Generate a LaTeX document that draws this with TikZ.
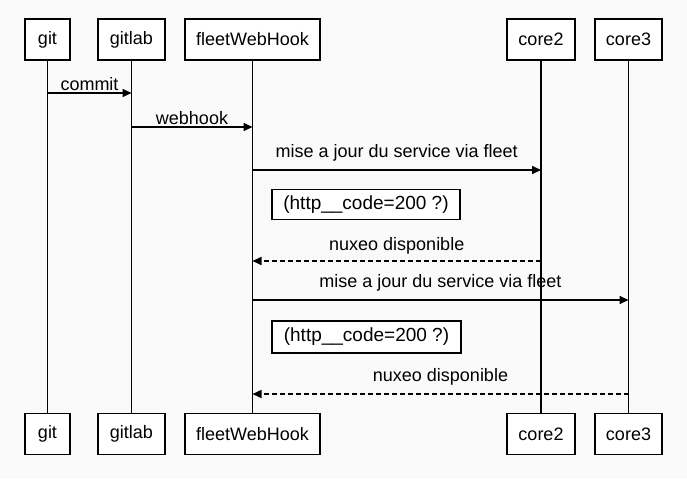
\documentclass[tikz,border=0pt]{standalone}
\usepackage{fontspec}
\setmainfont{Liberation Sans}
\usetikzlibrary{arrows.meta}
\definecolor{bgcol}{RGB}{250,250,250}
\begin{document}
\begin{tikzpicture}[x=1pt,y=-1pt,
  part/.style={draw=black, line width=1.8pt, fill=white, minimum height=41pt, inner sep=0pt, font=\fontsize{18}{21}\selectfont},
  life/.style={line width=1.6pt},
  msg/.style={line width=1.6pt, -{Triangle[length=9pt,width=8pt]}},
  reply/.style={msg, dash pattern=on 5pt off 3pt},
  lbl/.style={font=\fontsize{18}{21}\selectfont, inner sep=2pt, above},
  notebox/.style={draw=black, line width=1.6pt, fill=white, inner sep=0pt, font=\fontsize{19}{22}\selectfont}
]
\fill[bgcol] (0,0) rectangle (687,479);
\useasboundingbox (0,0) rectangle (687,479);

% lifelines (drawn first, behind boxes)
\coordinate (gitTs) at (47.5,60);
\coordinate (gitBn) at (47.5,413.5);

% top participants
\node[part, minimum width=45pt] (gitT) at (47.5,39.5) {git};
\node[part, minimum width=67pt] (gitlabT) at (131.5,39.5) {gitlab};
\node[part, minimum width=135pt] (fleetT) at (252.5,39.5) {fleetWebHook};
\node[part, minimum width=68pt] (core2T) at (541,39.5) {core2};
\node[part, minimum width=67pt] (core3T) at (628.5,39.5) {core3};

% bottom participants
\node[part, minimum width=45pt] (gitB) at (47.5,434) {git};
\node[part, minimum width=67pt] (gitlabB) at (131.5,434) {gitlab};
\node[part, minimum width=135pt] (fleetB) at (252.5,434) {fleetWebHook};
\node[part, minimum width=68pt] (core2B) at (541,434) {core2};
\node[part, minimum width=67pt] (core3B) at (628.5,434) {core3};

% lifelines
\draw[life] (gitT.south) -- (gitB.north);
\draw[life] (gitlabT.south) -- (gitlabB.north);
\draw[life] (fleetT.south) -- (fleetB.north);
\draw[life] (core2T.south) -- (core2B.north);
\draw[life] (core3T.south) -- (core3B.north);

% message levels
\coordinate (y1) at (0,93);
\coordinate (y2) at (0,127);
\coordinate (y3) at (0,170);
\coordinate (y4) at (0,261);
\coordinate (y5) at (0,300);
\coordinate (y6) at (0,394);

\draw[msg] (gitT |- y1) -- node[lbl] {commit} (gitlabT |- y1);
\draw[msg] (gitlabT |- y2) -- node[lbl] {webhook} (fleetT |- y2);
\draw[msg] (fleetT |- y3) -- node[lbl, yshift=6pt] {mise a jour du service via fleet} (core2T |- y3);
\node[notebox, minimum width=188pt, minimum height=30pt] (note1) at (366,204.5) {(http\_\_code=200 ?)};
\draw[reply] (core2T |- y4) -- node[lbl, yshift=4pt] {nuxeo disponible} (fleetT |- y4);
\draw[msg] (fleetT |- y5) -- node[lbl, yshift=6pt] {mise a jour du service via fleet} (core3T |- y5);
\node[notebox, minimum width=189pt, minimum height=32pt] (note2) at (366.5,337) {(http\_\_code=200 ?)};
\draw[reply] (core3T |- y6) -- node[lbl, yshift=6pt] {nuxeo disponible} (fleetT |- y6);
\end{tikzpicture}
\end{document}
